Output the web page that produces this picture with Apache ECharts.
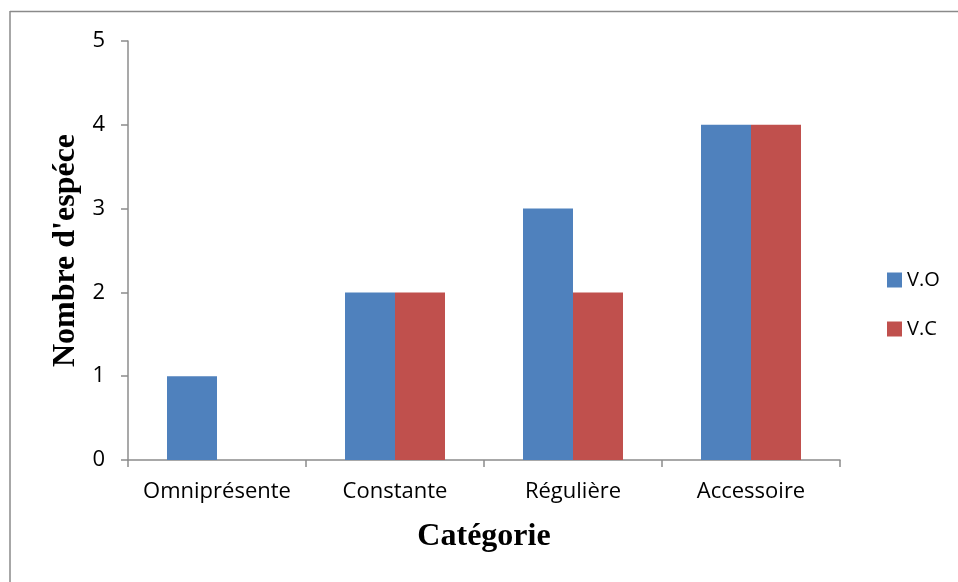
<!DOCTYPE html>
<html>
<head>
<meta charset="utf-8">
<script src="https://cdn.jsdelivr.net/npm/echarts@6/dist/echarts.min.js"></script>
<style>
  html, body { margin: 0; padding: 0; background: #fff; }
  #chart { width: 958px; height: 582px; }
</style>
</head>
<body>
<div id="chart"></div>
<script>
// Categories and species counts per vegetation type
const categories = ['Omniprésente', 'Constante', 'Régulière', 'Accessoire'];
const seriesVO = [1, 2, 3, 4];
const seriesVC = [0, 2, 2, 4];
const seriesNames = ['V.O', 'V.C'];

const labelFont = '"Open Sans", "Noto Sans", sans-serif';
const titleFont = '"Liberation Serif", "DejaVu Serif", serif';
const axisGray = '#8c8c8c';

const chart = echarts.init(document.getElementById('chart'));
chart.setOption({
  animation: false,
  backgroundColor: '#ffffff',
  graphic: [
    // outer frame (top and left edges)
    { type: 'line', shape: { x1: 10, y1: 11.5, x2: 958, y2: 11.5 }, style: { stroke: '#8a8a8a', lineWidth: 1.5 } },
    { type: 'line', shape: { x1: 10, y1: 11, x2: 10, y2: 582 }, style: { stroke: '#8a8a8a', lineWidth: 1.5 } }
  ],
  grid: { left: 128, right: 118, top: 41, bottom: 122 },
  legend: {
    orient: 'vertical',
    left: 882,
    top: 265,
    itemWidth: 15,
    itemHeight: 15,
    itemGap: 29,
    icon: 'rect',
    textStyle: { fontFamily: labelFont, fontSize: 20, color: '#000' },
    data: seriesNames
  },
  xAxis: {
    type: 'category',
    data: categories,
    name: 'Catégorie',
    nameLocation: 'middle',
    nameGap: 61,
    nameTextStyle: { fontFamily: titleFont, fontSize: 32, fontWeight: 'bold', color: '#000' },
    axisLine: { lineStyle: { color: axisGray, width: 1.5 } },
    axisTick: { show: true, length: 7, lineStyle: { color: axisGray, width: 1.5 } },
    axisLabel: { interval: 0, hideOverlap: false, fontFamily: labelFont, fontSize: 22, color: '#000', margin: 21 }
  },
  yAxis: {
    type: 'value',
    min: 0,
    max: 5,
    interval: 1,
    name: "Nombre d'espéce",
    nameLocation: 'middle',
    nameGap: 45,
    nameTextStyle: { fontFamily: titleFont, fontSize: 32, fontWeight: 'bold', color: '#000' },
    splitLine: { show: false },
    axisLine: { show: true, lineStyle: { color: axisGray, width: 1.5 } },
    axisTick: { show: true, length: 7, lineStyle: { color: axisGray, width: 1.5 } },
    axisLabel: { fontFamily: labelFont, fontSize: 22, color: '#000', margin: 23 }
  },
  series: [
    { name: seriesNames[0], type: 'bar', data: seriesVO, barWidth: 50, barGap: '0%', itemStyle: { color: '#4F81BD' } },
    { name: seriesNames[1], type: 'bar', data: seriesVC, barWidth: 50, barGap: '0%', itemStyle: { color: '#C0504D' } }
  ]
});
</script>
</body>
</html>
